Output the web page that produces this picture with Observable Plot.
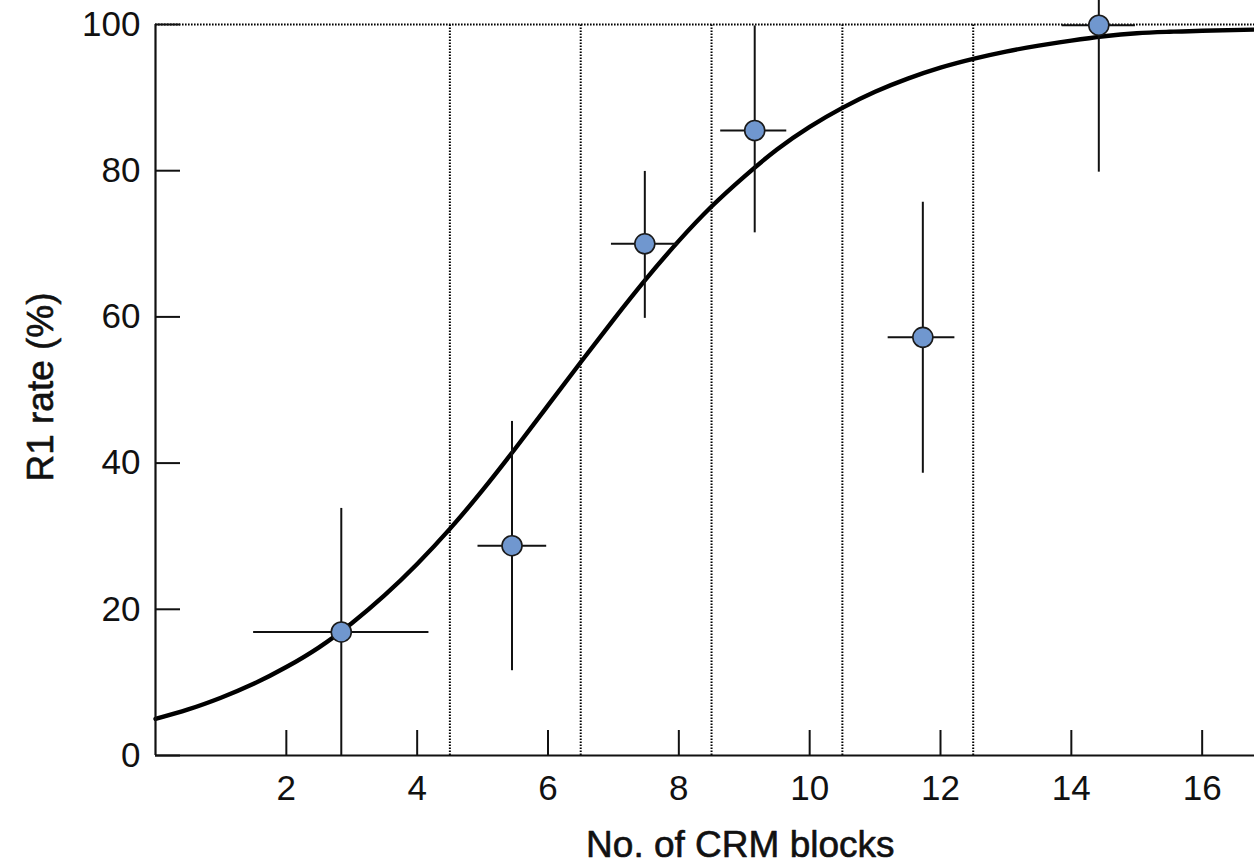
<!DOCTYPE html>
<html>
<head>
<meta charset="utf-8">
<script src="https://cdn.jsdelivr.net/npm/d3@7"></script>
<script src="https://cdn.jsdelivr.net/npm/@observablehq/plot@0.6"></script>
<style>
  html, body { margin: 0; padding: 0; background: #fff; }
  #chart svg { display: block; }
</style>
</head>
<body>
<div id="chart"></div>
<script>
// Observed R1 rate per group of CRM block counts (mean with error ranges)
const blocks = [2.84, 5.45, 7.48, 9.16, 11.73, 14.42];
const rate   = [16.9, 28.7, 70.0, 85.5, 57.2, 99.9];
const blocksLo = [1.50, 4.93, 6.97, 8.64, 11.20, 13.86];
const blocksHi = [4.18, 5.98, 7.99, 9.65, 12.22, 14.98];
const rateLo = [0, 11.6, 59.8, 71.5, 38.6, 79.8];
const rateHi = [33.8, 45.7, 79.9, 99.8, 75.7, 103.3];

// Fitted sigmoid curve, sampled along the block axis
const fitX = [0, 0.5, 1, 1.5, 2, 2.5, 3, 3.5, 4, 4.5, 5, 5.5, 6, 6.5, 7, 7.5, 8, 8.5,
              9, 9.5, 10, 10.5, 11, 11.5, 12, 12.5, 13, 13.5, 14, 14.5, 15, 15.5, 16, 16.8];
const fitY = [5.0, 6.3, 7.9, 9.8, 12.1, 14.8, 18.1, 21.9, 26.2, 31.0, 36.3, 42.0, 47.9, 53.8,
              59.6, 65.2, 70.4, 75.1, 79.2, 82.9, 86.0, 88.6, 90.8, 92.6, 94.1, 95.3, 96.3,
              97.1, 97.8, 98.4, 98.8, 99.0, 99.15, 99.3];

// Boundaries between block-count groups
const groupEdges = [4.5, 6.5, 8.5, 10.5, 12.5];

const xTicks = [2, 4, 6, 8, 10, 12, 14, 16];
const yTicks = [0, 20, 40, 60, 80, 100];
const xLabel = "No. of CRM blocks";
const yLabel = "R1 rate (%)";

const points = blocks.map((b, i) => ({
  blocks: b, rate: rate[i],
  xLo: blocksLo[i], xHi: blocksHi[i],
  yLo: rateLo[i], yHi: rateHi[i]
}));
const fit = fitX.map((x, i) => ({x, y: fitY[i]}));

const ink = "#111";
const dotted = {stroke: "#000", strokeWidth: 2, strokeDasharray: "1.6,1.4"};
const textInk = {fill: ink, stroke: ink, strokeWidth: 0.6};

const chart = Plot.plot({
  width: 1254,
  height: 862,
  marginLeft: 155,
  marginRight: 0,
  marginTop: 24,
  marginBottom: 107,
  x: {domain: [0, 16.8]},
  y: {domain: [0, 100]},
  style: {
    fontFamily: "'Liberation Sans', Arial, Helvetica, sans-serif",
    fontSize: "35px",
    color: ink,
    background: "#fff",
    overflow: "visible"
  },
  marks: [
    // group boundaries and the 100% reference line
    Plot.ruleX(groupEdges, {y1: 0, y2: 100, ...dotted}),
    Plot.ruleY([100], {x1: 0, x2: 16.8, ...dotted}),

    // fitted curve
    Plot.line(fit, {x: "x", y: "y", curve: "natural", stroke: "#000", strokeWidth: 4.4}),

    // error bars
    Plot.ruleY(points, {y: "rate", x1: "xLo", x2: "xHi", stroke: ink, strokeWidth: 2}),
    Plot.ruleX(points, {x: "blocks", y1: "yLo", y2: "yHi", stroke: ink, strokeWidth: 2}),

    // observed rates
    Plot.dot(points, {x: "blocks", y: "rate", r: 10, fill: "#7097CF", stroke: "#1a1a1a", strokeWidth: 1.6}),

    // axis lines
    Plot.ruleX([0], {y1: 0, y2: 100, stroke: ink, strokeWidth: 2.2}),
    Plot.ruleY([0], {x1: 0, x2: 16.8, stroke: ink, strokeWidth: 2.2}),

    // inward ticks
    Plot.axisX(xTicks, {tickSize: -25, text: null, label: null, strokeWidth: 2, stroke: ink}),
    Plot.axisY(yTicks, {tickSize: -25, text: null, label: null, strokeWidth: 2, stroke: ink}),

    // tick labels
    Plot.axisX(xTicks, {tickSize: 0, tickPadding: 20, label: null, fontSize: 35, ...textInk}),
    Plot.axisY(yTicks, {tickSize: 0, tickPadding: 15, label: null, fontSize: 35, ...textInk}),

    // axis titles
    Plot.text([xLabel], {x: 8.94, frameAnchor: "bottom", dy: 101, lineAnchor: "bottom", textAnchor: "middle", fontSize: 37, ...textInk}),
    Plot.text([yLabel], {frameAnchor: "left", dx: -103, dy: -3, rotate: -90, lineAnchor: "bottom", textAnchor: "middle", fontSize: 37, ...textInk})
  ]
});

document.getElementById("chart").appendChild(chart);
</script>
</body>
</html>
